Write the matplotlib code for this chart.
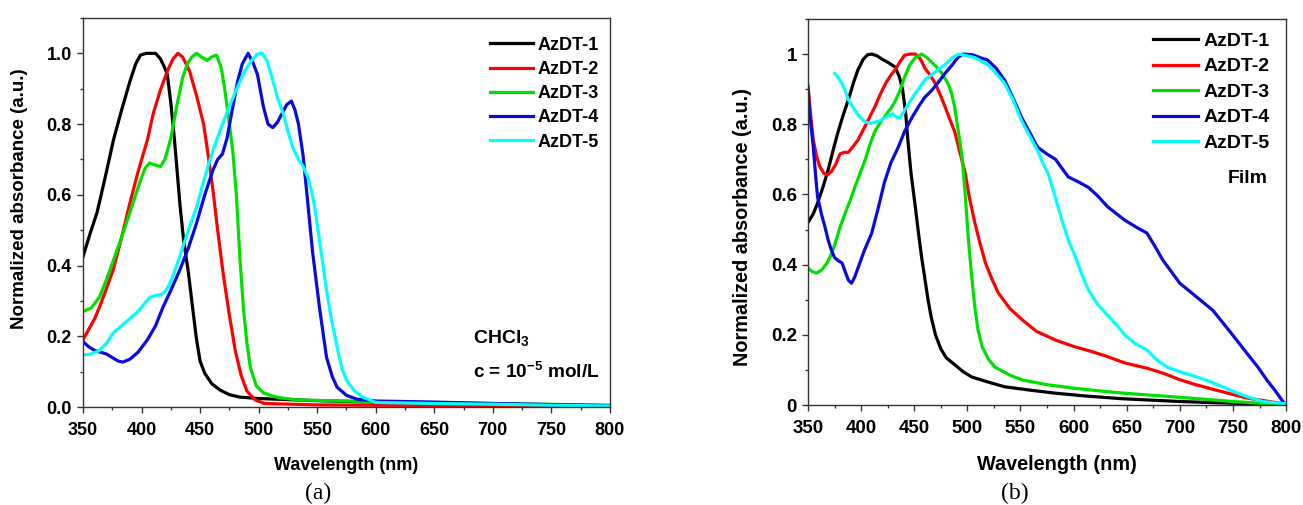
import matplotlib
matplotlib.use("Agg")
import matplotlib.pyplot as plt
from matplotlib.ticker import MultipleLocator, FormatStrFormatter

plt.rcParams['font.family'] = ['Liberation Sans', 'DejaVu Sans']
plt.rcParams['font.weight'] = 'bold'
plt.rcParams['mathtext.fontset'] = 'custom'
plt.rcParams['mathtext.rm'] = 'Liberation Sans:bold'
plt.rcParams['mathtext.bf'] = 'Liberation Sans:bold'
plt.rcParams['mathtext.default'] = 'bf'

labels = ["AzDT-1", "AzDT-2", "AzDT-3", "AzDT-4", "AzDT-5"]
colors = ["#000000", "#FF0000", "#00E000", "#0A0ADC", "#00FFFF"]

# (a) solution spectra, CHCl3
sol1_wl = [350, 356, 362, 369, 376, 383, 390, 395, 399, 404, 412, 416, 419,
           422, 425, 428, 433, 436, 440, 444, 447, 450, 454, 460, 467, 475,
           484, 500, 550, 600, 650, 700, 750, 800]
sol1_ab = [0.425, 0.49, 0.55, 0.65, 0.755, 0.84, 0.92, 0.97, 0.995, 1.0, 1.0,
           0.985, 0.965, 0.94, 0.86, 0.76, 0.565, 0.47, 0.38, 0.27, 0.19,
           0.13, 0.095, 0.066, 0.048, 0.035, 0.028, 0.024, 0.018, 0.014,
           0.011, 0.008, 0.005, 0.003]
sol2_wl = [350, 355, 360, 365, 370, 376, 383, 390, 397, 405, 410, 416, 422,
           427, 431, 435, 441, 447, 453, 457, 461, 465, 470, 475, 480, 485,
           490, 497, 505, 550, 600, 700, 800]
sol2_ab = [0.19, 0.22, 0.25, 0.29, 0.335, 0.39, 0.48, 0.576, 0.665, 0.755,
           0.83, 0.895, 0.95, 0.985, 1.0, 0.99, 0.95, 0.88, 0.8, 0.71, 0.613,
           0.5, 0.37, 0.26, 0.16, 0.09, 0.045, 0.02, 0.01, 0.006, 0.005,
           0.004, 0.003]
sol3_wl = [350, 357, 364, 370, 376, 383, 390, 395, 399, 403, 407, 411, 416,
           420, 425, 430, 435, 439, 443, 447, 451, 456, 460, 464, 468, 471,
           475, 478, 481, 484, 487, 490, 493, 498, 504, 515, 533, 600, 700,
           800]
sol3_ab = [0.27, 0.28, 0.31, 0.36, 0.415, 0.48, 0.55, 0.6, 0.64, 0.675, 0.69,
           0.685, 0.68, 0.7, 0.76, 0.85, 0.93, 0.97, 0.99, 1.0, 0.99, 0.98,
           0.99, 0.995, 0.96, 0.9, 0.8, 0.72, 0.6, 0.42, 0.28, 0.18, 0.11,
           0.06, 0.04, 0.028, 0.02, 0.015, 0.01, 0.005]
sol4_wl = [350, 355, 360, 365, 370, 375, 380, 384, 390, 397, 405, 412, 418,
           425, 433, 440, 447, 454, 461, 465, 469, 473, 478, 482, 486, 491,
           495, 499, 504, 508, 512, 516, 520, 524, 528, 531, 534, 538, 541,
           546, 552, 558, 563, 567, 575, 584, 600, 650, 700, 750, 800]
sol4_ab = [0.185, 0.17, 0.16, 0.155, 0.15, 0.14, 0.13, 0.127, 0.135, 0.155,
           0.19, 0.23, 0.28, 0.33, 0.39, 0.45, 0.52, 0.6, 0.67, 0.7, 0.715,
           0.76, 0.85, 0.92, 0.97, 1.0, 0.975, 0.94, 0.85, 0.8, 0.79, 0.805,
           0.83, 0.855, 0.865, 0.84, 0.8, 0.71, 0.61, 0.44, 0.28, 0.14, 0.085,
           0.056, 0.033, 0.022, 0.017, 0.014, 0.01, 0.007, 0.004]
sol5_wl = [350, 357, 364, 370, 376, 383, 390, 397, 402, 407, 412, 417, 421,
           425, 430, 435, 440, 447, 454, 461, 468, 475, 482, 488, 494, 499,
           503, 507, 512, 516, 521, 525, 529, 534, 538, 542, 546, 549, 552,
           555, 558, 562, 567, 571, 575, 582, 589, 600, 650, 700, 750, 800]
sol5_ab = [0.147, 0.15, 0.16, 0.18, 0.21, 0.23, 0.25, 0.27, 0.29, 0.31, 0.315,
           0.318, 0.33, 0.355, 0.4, 0.45, 0.5, 0.565, 0.65, 0.725, 0.79, 0.85,
           0.905, 0.95, 0.98, 0.998, 1.0, 0.98, 0.925, 0.875, 0.83, 0.78,
           0.735, 0.7, 0.68, 0.65, 0.6, 0.54, 0.47, 0.4, 0.33, 0.25, 0.17,
           0.11, 0.076, 0.045, 0.028, 0.013, 0.01, 0.008, 0.005, 0.003]

# (b) film spectra
film1_wl = [350, 355, 359, 364, 369, 374, 378, 383, 388, 393, 397, 402, 406,
            410, 415, 420, 426, 432, 436, 439, 442, 444, 447, 451, 454, 457,
            460, 463, 466, 470, 475, 480, 488, 496, 504, 520, 535, 560, 582,
            610, 645, 700, 750, 800]
film1_ab = [0.52, 0.545, 0.575, 0.62, 0.67, 0.73, 0.775, 0.825, 0.87, 0.92,
            0.955, 0.985, 0.998, 1.0, 0.995, 0.985, 0.975, 0.963, 0.935, 0.9,
            0.83, 0.755, 0.66, 0.565, 0.49, 0.42, 0.36, 0.3, 0.25, 0.2, 0.16,
            0.135, 0.115, 0.095, 0.08, 0.065, 0.052, 0.042, 0.034, 0.026,
            0.018, 0.01, 0.005, 0.0]
film2_wl = [350, 352, 355, 358, 361, 365, 368, 372, 376, 380, 384, 388, 392,
            397, 403, 408, 413, 418, 423, 428, 432, 437, 441, 446, 451, 456,
            460, 465, 470, 475, 479, 484, 488, 493, 498, 502, 507, 512, 517,
            523, 529, 540, 552, 565, 583, 600, 614, 630, 648, 669, 685, 700,
            715, 731, 750, 763, 780, 794, 800]
film2_ab = [0.91, 0.84, 0.755, 0.71, 0.68, 0.66, 0.655, 0.665, 0.685, 0.715,
            0.72, 0.72, 0.735, 0.755, 0.79, 0.82, 0.85, 0.885, 0.916, 0.94,
            0.955, 0.98, 0.997, 1.0, 1.0, 0.985, 0.96, 0.94, 0.915, 0.88, 0.85,
            0.81, 0.78, 0.72, 0.66, 0.59, 0.52, 0.46, 0.405, 0.36, 0.32, 0.275,
            0.242, 0.21, 0.185, 0.167, 0.155, 0.14, 0.12, 0.105, 0.09, 0.072,
            0.058, 0.045, 0.03, 0.02, 0.012, 0.005, 0.003]
film3_wl = [350, 354, 358, 363, 368, 372, 376, 380, 385, 390, 394, 399, 404,
            408, 413, 418, 423, 428, 432, 437, 441, 446, 451, 457, 462, 467,
            472, 476, 482, 485, 488, 491, 495, 498, 501, 504, 507, 510, 514,
            520, 526, 540, 552, 575, 600, 625, 646, 700, 750, 780, 800]
film3_ab = [0.39, 0.38, 0.376, 0.385, 0.405, 0.43, 0.465, 0.505, 0.547, 0.585,
            0.62, 0.66, 0.7, 0.74, 0.78, 0.805, 0.826, 0.845, 0.865, 0.9,
            0.935, 0.97, 0.99, 1.0, 0.99, 0.975, 0.96, 0.945, 0.915, 0.89,
            0.85, 0.79, 0.707, 0.6, 0.47, 0.37, 0.28, 0.215, 0.165, 0.13,
            0.108, 0.085, 0.071, 0.058, 0.048, 0.04, 0.034, 0.022, 0.01,
            0.004, 0.002]
film4_wl = [350, 352, 355, 357, 359, 363, 366, 369, 371, 375, 379, 382, 385,
            388, 391, 394, 397, 403, 410, 416, 422, 428, 435, 441, 448, 454,
            460, 466, 472, 479, 486, 491, 496, 505, 512, 519, 527, 535, 543,
            551, 559, 566, 575, 583, 595, 605, 614, 623, 632, 648, 660, 669,
            677, 684, 692, 700, 715, 731, 747, 763, 773, 782, 790, 797, 800]
film4_ab = [0.905, 0.82, 0.735, 0.66, 0.593, 0.54, 0.507, 0.47, 0.45, 0.42,
            0.41, 0.405, 0.38, 0.356, 0.347, 0.365, 0.39, 0.44, 0.49, 0.56,
            0.635, 0.69, 0.735, 0.78, 0.82, 0.85, 0.877, 0.895, 0.917, 0.945,
            0.97, 0.99, 1.0, 0.998, 0.99, 0.983, 0.96, 0.926, 0.875, 0.82,
            0.775, 0.735, 0.715, 0.7, 0.65, 0.635, 0.62, 0.595, 0.565, 0.527,
            0.505, 0.49, 0.45, 0.413, 0.38, 0.347, 0.31, 0.27, 0.21, 0.148,
            0.11, 0.071, 0.04, 0.01, 0.0]
film5_wl = [375, 378, 382, 385, 388, 394, 399, 404, 409, 413, 418, 422, 426,
            430, 434, 437, 441, 446, 451, 455, 460, 466, 472, 479, 486, 492,
            500, 507, 513, 519, 527, 535, 543, 551, 559, 566, 571, 576, 582,
            589, 595, 602, 608, 614, 622, 630, 640, 648, 658, 669, 678, 688,
            700, 716, 730, 747, 762, 778, 790, 800]
film5_ab = [0.945, 0.935, 0.917, 0.895, 0.87, 0.84, 0.82, 0.806, 0.803, 0.806,
            0.81, 0.818, 0.825, 0.83, 0.818, 0.82, 0.84, 0.865, 0.888, 0.905,
            0.926, 0.94, 0.955, 0.97, 0.99, 1.0, 0.995, 0.99, 0.98, 0.97,
            0.945, 0.917, 0.87, 0.81, 0.765, 0.726, 0.69, 0.66, 0.6, 0.527,
            0.47, 0.42, 0.37, 0.328, 0.29, 0.262, 0.23, 0.2, 0.175, 0.157,
            0.13, 0.108, 0.095, 0.08, 0.065, 0.043, 0.025, 0.01, 0.006, 0.004]


def style_axes(ax, yfmt, size):
    ax.set_xlim(350, 800)
    ax.set_ylim(0, 1.1)
    ax.xaxis.set_major_locator(MultipleLocator(50))
    ax.xaxis.set_minor_locator(MultipleLocator(25))
    ax.yaxis.set_major_locator(MultipleLocator(0.2))
    ax.yaxis.set_minor_locator(MultipleLocator(0.1))
    ax.yaxis.set_major_formatter(yfmt)
    ax.tick_params(which='both', direction='out', top=False, right=False,
                   labelsize=size, width=1.0, color='#333333')
    ax.tick_params(which='major', length=4.5)
    ax.tick_params(which='minor', length=2.5)
    ax.tick_params(axis='x', which='major', pad=6.0)
    ax.tick_params(axis='y', which='major', pad=3.5)
    for sp in ax.spines.values():
        sp.set_linewidth(1.0)
        sp.set_color('#333333')


def solution_panel(ax):
    series = [(sol1_wl, sol1_ab), (sol2_wl, sol2_ab), (sol3_wl, sol3_ab),
              (sol4_wl, sol4_ab), (sol5_wl, sol5_ab)]
    for (wl, ab), lab, col in zip(series, labels, colors):
        ax.plot(wl, ab, color=col, lw=2.3, label=lab)
    style_axes(ax, FormatStrFormatter('%.1f'), 13)
    ax.set_xlabel("Wavelength (nm)", fontsize=13, fontweight='bold')
    ax.set_ylabel("Normalized absorbance (a.u.)", fontsize=13.5,
                  fontweight='bold')
    ax.xaxis.set_label_coords(0.5, -0.128)
    ax.yaxis.set_label_coords(-0.104, 0.535)
    ax.legend(loc='upper left', bbox_to_anchor=(0.772, 0.952), frameon=False,
              fontsize=13, handlelength=2.38, handletextpad=0.28,
              labelspacing=0.40, borderpad=0, borderaxespad=0)
    ax.text(0.74, 0.1645, r"CHCl$_3$", transform=ax.transAxes, fontsize=14,
            va='baseline')
    ax.text(0.74, 0.0746, r"c = 10$^{-5}$ mol/L", transform=ax.transAxes,
            fontsize=13.7, va='baseline')


def film_panel(ax):
    series = [(film1_wl, film1_ab), (film2_wl, film2_ab),
              (film3_wl, film3_ab), (film4_wl, film4_ab),
              (film5_wl, film5_ab)]
    for (wl, ab), lab, col in zip(series, labels, colors):
        ax.plot(wl, ab, color=col, lw=2.3, label=lab)
    style_axes(ax, lambda v, p: "%g" % round(v, 1), 13.5)
    ax.set_xlabel("Wavelength (nm)", fontsize=14.3, fontweight='bold')
    ax.set_ylabel("Normalized absorbance (a.u.)", fontsize=14.3,
                  fontweight='bold')
    ax.xaxis.set_label_coords(0.52, -0.13)
    ax.yaxis.set_label_coords(-0.117, 0.461)
    ax.legend(loc='upper left', bbox_to_anchor=(0.722, 0.966), frameon=False,
              fontsize=14, handlelength=2.3, handletextpad=0.3,
              labelspacing=0.41, borderpad=0, borderaxespad=0)
    ax.text(0.877, 0.575, "Film", transform=ax.transAxes, fontsize=14,
            va='baseline')


def main():
    fig = plt.figure(figsize=(13.03, 5.05), dpi=100)
    ax_a = fig.add_axes([0.0637, 0.194, 0.4044, 0.7704])
    ax_b = fig.add_axes([0.6201, 0.198, 0.3669, 0.7644])
    solution_panel(ax_a)
    film_panel(ax_b)
    fig.text(318 / 1303, 1 - 493 / 505, "(a)", family='Liberation Serif',
             fontsize=17, fontweight='normal', ha='center', va='center')
    fig.text(1015 / 1303, 1 - 493 / 505, "(b)", family='Liberation Serif',
             fontsize=17, fontweight='normal', ha='center', va='center')
    fig.savefig("out.png", dpi=100)
    return


if __name__ == "__main__":
    main()
